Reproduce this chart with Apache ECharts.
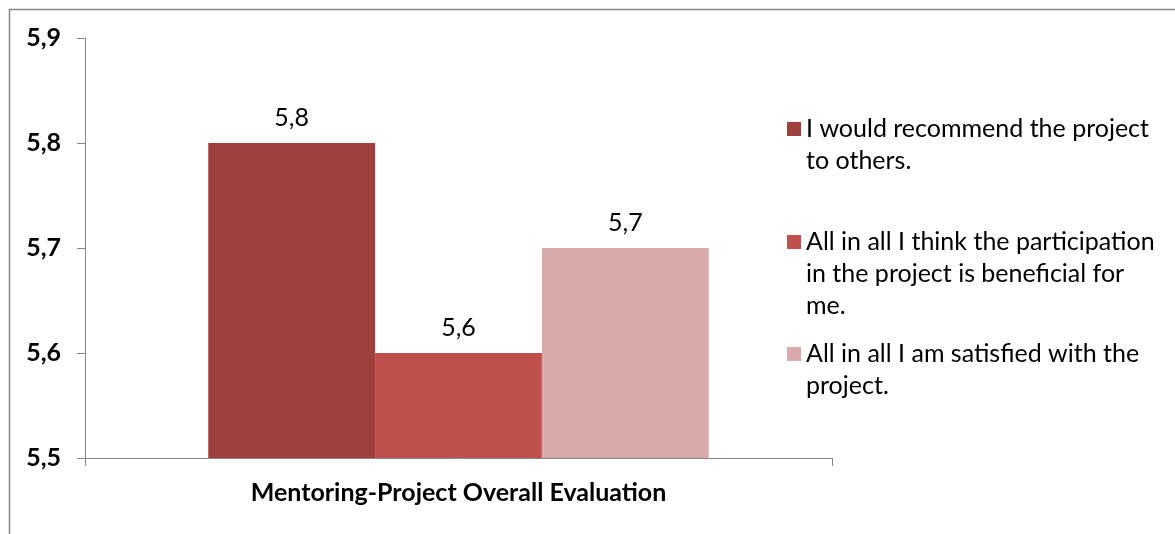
<!DOCTYPE html>
<html>
<head>
<meta charset="utf-8">
<script src="https://cdn.jsdelivr.net/npm/echarts@6/dist/echarts.min.js"></script>
<style>html,body{margin:0;padding:0;background:#fff}#c{width:1175px;height:534px}</style>
</head>
<body>
<div id="c"></div>
<script>
var categories = ['Mentoring-Project Overall Evaluation'];
var seriesNames = [
  'I would recommend the project to others.',
  'All in all I think the participation in the project is beneficial for me.',
  'All in all I am satisfied with the project.'
];
var legendLines = [
  ['I would recommend the project', 'to others.'],
  ['All in all I think the participation', 'in the project is beneficial for', 'me.'],
  ['All in all I am satisfied with the', 'project.']
];
var seriesValues = [[5.8], [5.6], [5.7]];
var yTicks = { min: 5.5, max: 5.9, interval: 0.1 };

var colors = ['#9E413E', '#C0504D', '#D9AAA9'];
var FONT = 'Lato';
var FS = 25;
var LH = 32;
var legendIconCenters = [129, 242, 354];

function fmt(v) { return Number(v).toFixed(1).replace('.', ','); }

var chart = echarts.init(document.getElementById('c'), null, { renderer: 'canvas' });

var legends = seriesNames.map(function (name, i) {
  var n = legendLines[i].length;
  var total = 2 * n - 1;
  var H = LH * total;
  var pre = new Array(n).join('\n');
  return {
    orient: 'vertical',
    left: 787,
    top: legendIconCenters[i] - H / 2,
    padding: 0,
    itemWidth: 14,
    itemHeight: 14,
    itemGap: 0,
    icon: 'rect',
    selectedMode: false,
    data: [name],
    formatter: function () { return pre + legendLines[i].join('\n'); },
    textStyle: { fontFamily: FONT, fontSize: FS, color: '#000', lineHeight: LH }
  };
});

var option = {
  animation: false,
  color: colors,
  legend: legends,
  grid: { left: 85, top: 38, width: 747, height: 420, containLabel: false },
  xAxis: {
    type: 'category',
    data: categories,
    axisLine: { lineStyle: { color: '#868686', width: 1 } },
    axisTick: { show: true, length: 8, lineStyle: { color: '#868686' } },
    axisLabel: { fontFamily: FONT, fontSize: FS, fontWeight: 'bold', color: '#000', margin: 22 }
  },
  yAxis: {
    type: 'value',
    min: yTicks.min, max: yTicks.max, interval: yTicks.interval,
    axisLine: { show: true, lineStyle: { color: '#868686', width: 1 } },
    axisTick: { show: true, length: 8, lineStyle: { color: '#868686' } },
    splitLine: { show: false },
    axisLabel: { fontFamily: FONT, fontSize: FS, fontWeight: 'bold', color: '#000', margin: 24, formatter: fmt }
  },
  series: seriesNames.map(function (name, i) {
    return {
      type: 'bar', name: name, data: seriesValues[i],
      barGap: '0%', barCategoryGap: '33%',
      itemStyle: { color: colors[i] },
      label: { show: true, position: 'top', distance: 13, formatter: function (p) { return fmt(p.value); },
        fontFamily: FONT, fontSize: FS, color: '#000' }
    };
  }),
  graphic: [{
    type: 'rect', silent: true, z: -1,
    shape: { x: 9.5, y: 9.5, width: 2000, height: 2000 },
    style: { fill: 'none', stroke: '#868686', lineWidth: 1.5 }
  }]
};
chart.setOption(option);
</script>
</body>
</html>
